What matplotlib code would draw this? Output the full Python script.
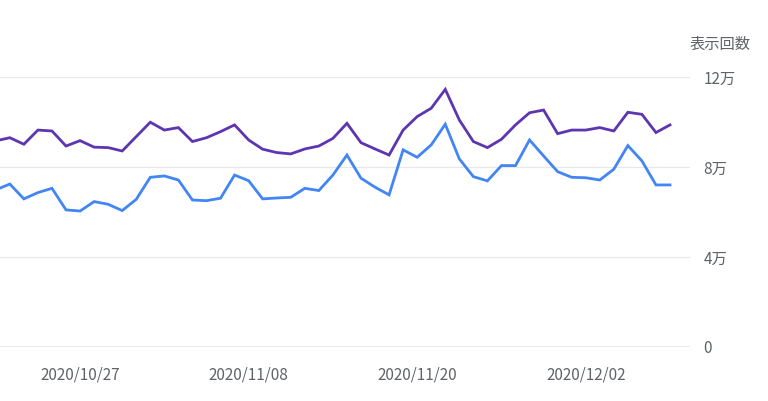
import matplotlib
matplotlib.use("Agg")
import matplotlib.pyplot as plt
import numpy as np
import pandas as pd

plt.rcParams['font.family'] = ['Noto Sans CJK JP', 'DejaVu Sans']

start = "2020-10-21"
purple = [9.16, 9.30, 9.01, 9.64, 9.60, 8.93, 9.17, 8.88, 8.86, 8.71, 9.35, 9.99, 9.64, 9.75,
          9.13, 9.30, 9.57, 9.87, 9.20, 8.79, 8.64, 8.58, 8.80, 8.93, 9.27, 9.94,
          9.08, 8.80, 8.53, 9.64, 10.24, 10.61, 11.45, 10.09, 9.13, 8.86, 9.23, 9.87, 10.41,
          10.53, 9.48, 9.64, 9.64, 9.75, 9.60, 10.43, 10.34, 9.53, 9.87]
blue = [6.98, 7.24, 6.58, 6.86, 7.05, 6.09, 6.04, 6.46, 6.34, 6.06, 6.56, 7.54, 7.60, 7.42,
        6.53, 6.50, 6.61, 7.64, 7.39, 6.58, 6.62, 6.65, 7.05, 6.95, 7.64, 8.53,
        7.50, 7.10, 6.76, 8.76, 8.43, 8.98, 9.90, 8.36, 7.57, 7.38, 8.06, 8.06, 9.20,
        8.49, 7.79, 7.54, 7.52, 7.42, 7.90, 8.95, 8.27, 7.20, 7.20]
yticks = [0, 4, 8, 12]
ytick_labels = ["0", "4万", "8万", "12万"]
xtick_labels = ["2020/10/27", "2020/11/08", "2020/11/20", "2020/12/02"]

dates = pd.date_range(start, periods=len(purple), freq="D")
x = np.arange(len(purple))
xtick_pos = [list(dates.strftime("%Y/%m/%d")).index(t) for t in xtick_labels]

fig = plt.figure(figsize=(7.68, 4.01), dpi=100)
ax = fig.add_axes([0, 0.135, 0.898, 0.673])
ax.plot(x, purple, color="#5e35b1", lw=2.0, solid_joinstyle="miter", clip_on=False)
ax.plot(x, blue, color="#4285f4", lw=2.0, solid_joinstyle="miter", clip_on=False)
ax.set_xlim(0.3, len(x) + 0.4)
ax.set_ylim(0, 12)
for v in yticks[1:]:
    ax.axhline(v, color="#e8e8e8", lw=0.9, zorder=0)
ax.axhline(0, color="#9e9e9e", lw=1.0)
for s in ax.spines.values():
    s.set_visible(False)
ax.yaxis.tick_right()
ax.set_yticks(yticks)
ax.set_yticklabels(ytick_labels)
ax.set_xticks(xtick_pos)
ax.set_xticklabels(xtick_labels)
ax.tick_params(axis="y", length=0, pad=10, labelsize=11, labelcolor="#5f6368")
ax.tick_params(axis="x", length=0, pad=14, labelsize=11, labelcolor="#5f6368")
fig.text(0.937, 0.89, "表示回数", ha="center", va="center", fontsize=11, color="#5f6368")
fig.savefig("out.png", dpi=100)
